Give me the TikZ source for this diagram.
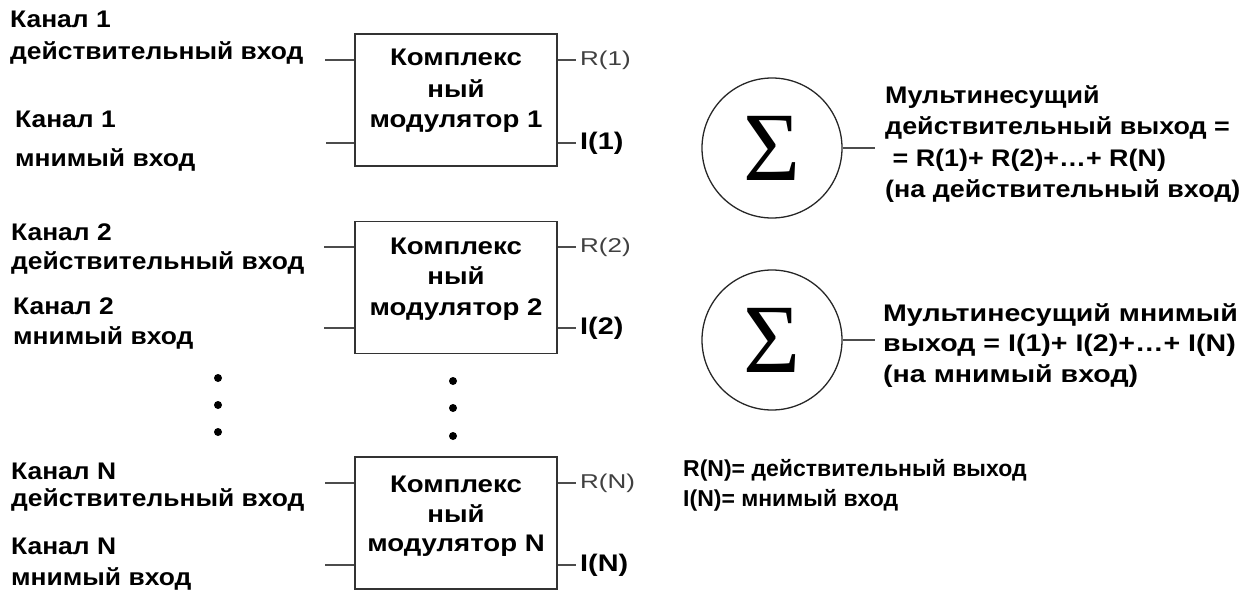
\documentclass[tikz,border=0pt]{standalone}
\usepackage{fontspec}
\setmainfont{Liberation Sans}
\newfontfamily\sigmafont{Liberation Serif}
\newfontfamily\fleft[FakeStretch=1.1]{Liberation Sans}
\newfontfamily\fmodbox[FakeStretch=1.15]{Liberation Sans}
\newfontfamily\fright[FakeStretch=1.12]{Liberation Sans}
\newfontfamily\frightb[FakeStretch=1.19]{Liberation Sans}
\newfontfamily\flab[FakeStretch=1.3]{Liberation Sans}
\newfontfamily\flabb[FakeStretch=1.2]{Liberation Sans}
\begin{document}
\begin{tikzpicture}[x=1pt,y=-1pt,
  txt/.style={font=\fleft\fontsize{24}{31}\selectfont\bfseries, inner sep=0pt, anchor=base west},
  rtxt/.style={font=\fright\fontsize{24}{31}\selectfont\bfseries, inner sep=0pt, anchor=base west},
  rtxtb/.style={font=\frightb\fontsize{24}{31}\selectfont\bfseries, inner sep=0pt, anchor=base west},
  btxt/.style={font=\fontsize{23}{31}\selectfont\bfseries, inner sep=0pt, anchor=base west},
  ctxt/.style={font=\fmodbox\fontsize{24}{31}\selectfont\bfseries, inner sep=0pt, anchor=base},
  rlab/.style={font=\flab\fontsize{20}{22}\selectfont, text=black!75, inner sep=0pt, anchor=west},
  ilab/.style={font=\flabb\fontsize{24}{26}\selectfont\bfseries, inner sep=0pt, anchor=west},
  modbox/.style={draw=black!80, line width=1.5pt, minimum width=202pt, minimum height=132pt, inner sep=0pt},
  wire/.style={draw=black!70, line width=1.6pt},
  sumc/.style={draw=black!85, line width=1.3pt, circle, minimum size=140pt, inner sep=0pt,
    font=\sigmafont\fontsize{98}{98}\selectfont},
  dotc/.style={fill=black, circle, minimum size=8pt, inner sep=0pt}]
\useasboundingbox (0,0) rectangle (1251,594);

% left labels
\node[txt] (c1a) at (10,28) {Канал 1};
\node[txt] (c1b) at (10,60) {действительный вход};
\node[txt] (c1c) at (15,128) {Канал 1};
\node[txt] (c1d) at (15,166) {мнимый вход};
\node[txt] (c2a) at (11,240) {Канал 2};
\node[txt] (c2b) at (11,269) {действительный вход};
\node[txt] (c2c) at (13,314) {Канал 2};
\node[txt] (c2d) at (13,344) {мнимый вход};
\node[txt] (cNa) at (11,479) {Канал N};
\node[txt] (cNb) at (11,506) {действительный вход};
\node[txt] (cNc) at (11,554) {Канал N};
\node[txt] (cNd) at (11,585) {мнимый вход};

% modulator boxes
\node[modbox] (b1) at (456,100) {};
\node[modbox] (b2) at (456,287.5) {};
\node[modbox] (bN) at (456,523) {};

\node[ctxt] (b1t1) at (456,66) {Комплекс};
\node[ctxt] (b1t2) at (456,97) {ный};
\node[ctxt] (b1t3) at (456,128) {модулятор 1};
\node[ctxt] (b2t1) at (456,254) {Комплекс};
\node[ctxt] (b2t2) at (456,284) {ный};
\node[ctxt] (b2t3) at (456,315) {модулятор 2};
\node[ctxt] (bNt1) at (456,492) {Комплекс};
\node[ctxt] (bNt2) at (456,522) {ный};
\node[ctxt] (bNt3) at (456,551) {модулятор N};

% input wire ends
\coordinate (i1r) at (325,60);
\coordinate (i1i) at (326,143);
\coordinate (i2r) at (324,247);
\coordinate (i2i) at (324,328);
\coordinate (iNr) at (325,483);
\coordinate (iNi) at (325,565);
\draw[wire] (i1r) -- (b1.west |- i1r);
\draw[wire] (i1i) -- (b1.west |- i1i);
\draw[wire] (i2r) -- (b2.west |- i2r);
\draw[wire] (i2i) -- (b2.west |- i2i);
\draw[wire] (iNr) -- (bN.west |- iNr);
\draw[wire] (iNi) -- (bN.west |- iNi);

% output wire ends
\coordinate (o1r) at (576,60);
\coordinate (o1i) at (576,143);
\coordinate (o2r) at (576,247);
\coordinate (o2i) at (576,328);
\coordinate (oNr) at (576,483);
\coordinate (oNi) at (576,565);
\draw[wire] (b1.east |- o1r) -- (o1r);
\draw[wire] (b1.east |- o1i) -- (o1i);
\draw[wire] (b2.east |- o2r) -- (o2r);
\draw[wire] (b2.east |- o2i) -- (o2i);
\draw[wire] (bN.east |- oNr) -- (oNr);
\draw[wire] (bN.east |- oNi) -- (oNi);

\node[rlab] (r1) at (580,60) {R(1)};
\node[ilab] (l1) at (580,143) {I(1)};
\node[rlab] (r2) at (580,247) {R(2)};
\node[ilab] (l2) at (580,328) {I(2)};
\node[rlab] (rN) at (580,483) {R(N)};
\node[ilab] (lN) at (580,565) {I(N)};

% dots
\node[dotc] (d1) at (218,378) {};
\node[dotc] (d2) at (218,405) {};
\node[dotc] (d3) at (218,432) {};
\node[dotc] (d4) at (453,381) {};
\node[dotc] (d5) at (453,408) {};
\node[dotc] (d6) at (453,436) {};

% summers
\node[sumc] (s1) at (772,148) {Σ};
\node[sumc] (s2) at (772,340) {Σ};
\coordinate (s1o) at (875,148);
\coordinate (s2o) at (875,340);
\draw[wire] (s1.east) -- (s1o);
\draw[wire] (s2.east) -- (s2o);

% right texts
\node[rtxt] (t1a) at (885,103) {Мультинесущий};
\node[rtxt] (t1b) at (885,135) {действительный выход =};
\node[rtxt] (t1c) at (885,166) {\ = R(1)+ R(2)+…+ R(N)};
\node[rtxt] (t1d) at (885,197) {(на действительный вход)};
\node[rtxtb] (t2a) at (883,321) {Мультинесущий мнимый};
\node[rtxtb] (t2b) at (883,351) {выход = I(1)+ I(2)+…+ I(N)};
\node[rtxtb] (t2c) at (883,382) {(на мнимый вход)};
\node[btxt] (t3a) at (683,476) {R(N)= действительный выход};
\node[btxt] (t3b) at (683,506) {I(N)= мнимый вход};
\end{tikzpicture}
\end{document}
